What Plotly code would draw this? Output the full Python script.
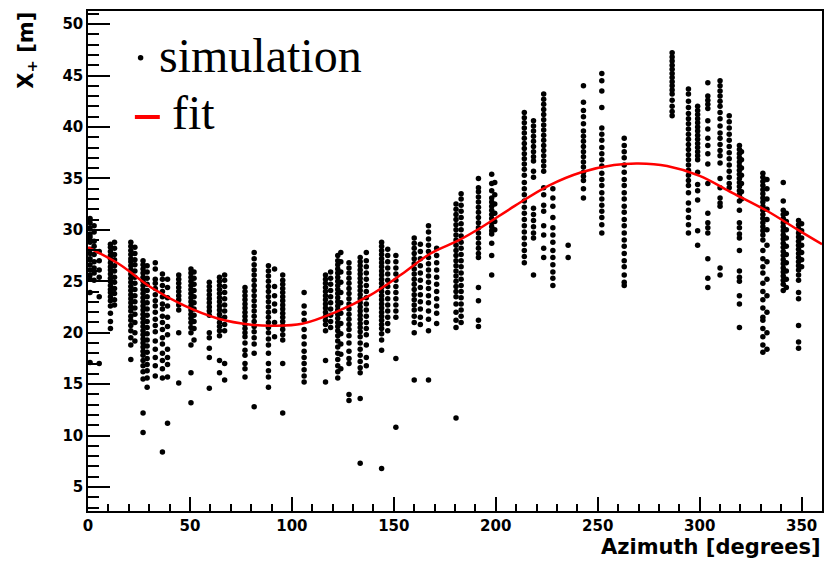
import plotly.graph_objects as go

# ---------------- data ----------------
column_azimuth = [1, 3, 5.5, 11, 13, 21, 23, 27, 29, 33, 36.5, 39, 44.5, 50.5, 52,
                  59.5, 64.5, 67, 77, 81.5, 88.5, 91.5, 95.5, 106, 116.5, 119, 122.5,
                  124, 128, 133.5, 136.5, 144, 147, 151, 160, 163, 167, 171, 180.5,
                  183, 191.5, 198, 199.5, 214, 218.5, 223.5, 228, 235.5, 243, 252,
                  263, 286.5, 294.5, 299, 304, 310, 314.5, 319.5, 320.5, 331, 333,
                  341, 342.5, 348.5, 350]

column_xplus = [
    [31.1, 30.7, 30.2, 29.6, 29.3, 28.8, 28.1, 27.7, 27.2, 26.6, 26.1, 25.6, 25.2, 23.9, 17.1],
    [30.4, 29.8, 28.9, 28.4, 27.6, 26.9, 26.3, 25.8, 25.1],
    [27.9, 27.0, 26.1, 25.4, 23.5, 17.0],
    [28.6, 28.3, 27.9, 27.5, 27.2, 26.8, 26.4, 26.1, 25.7, 25.3, 25.0, 24.6, 24.2, 23.9, 23.5, 23.1, 22.6, 21.9, 21.1, 20.4],
    [28.8, 28.2, 27.6, 27.1, 26.5, 26.0, 25.4, 24.9, 24.3, 23.8, 23.2, 22.7],
    [28.8, 28.4, 28.0, 27.6, 27.2, 26.9, 26.5, 26.1, 25.7, 25.3, 24.9, 24.5, 24.1, 23.7, 23.3, 22.9, 22.5, 22.1, 21.6, 21.2, 20.7, 20.2, 19.5, 18.8, 17.4],
    [28.3, 27.7, 27.1, 26.6, 26.0, 25.4, 24.8, 24.2, 23.6, 23.0, 22.4, 21.8, 21.0, 20.0, 19.2],
    [27.0, 26.6, 26.2, 25.8, 25.4, 25.0, 24.6, 24.2, 23.8, 23.4, 23.0, 22.6, 22.2, 21.8, 21.4, 21.0, 20.6, 20.2, 19.8, 19.4, 19.0, 18.6, 18.2, 17.8, 17.3, 16.8, 16.2, 15.5, 12.2, 10.3],
    [26.5, 25.9, 25.3, 24.7, 24.1, 23.5, 22.9, 22.3, 21.7, 21.1, 20.5, 19.9, 19.3, 18.7, 18.1, 17.5, 16.9, 16.3, 15.6, 14.7],
    [26.8, 26.2, 25.2, 24.8, 24.3, 23.7, 23.1, 22.6, 22.0, 21.3, 20.7, 20.1, 19.2, 18.4, 17.6, 16.8, 15.8],
    [25.7, 25.2, 24.6, 24.0, 23.5, 22.8, 22.3, 21.6, 21.0, 20.3, 19.5, 18.9, 18.0, 17.3, 16.5, 15.6, 8.4],
    [25.2, 24.4, 23.4, 22.6, 21.5, 20.6, 19.8, 18.4, 17.6, 16.9, 15.7, 11.2],
    [25.6, 25.2, 24.8, 24.4, 24.0, 23.6, 23.2, 22.7, 22.2, 20.0, 15.1],
    [26.2, 25.8, 25.4, 25.0, 24.6, 24.2, 23.8, 23.4, 23.0, 22.6, 22.2, 21.8, 21.4, 21.0, 20.5, 20.0, 18.8, 16.1, 13.2],
    [25.9, 25.3, 24.7, 24.1, 23.5, 22.9, 22.3, 21.7, 21.1, 20.4, 19.3],
    [24.9, 24.5, 24.1, 23.7, 23.3, 22.9, 22.5, 22.1, 21.7, 20.0, 19.5, 18.5, 17.6, 14.6],
    [25.4, 25.0, 24.6, 24.2, 23.8, 23.4, 23.0, 22.6, 22.2, 21.8, 21.4, 21.0, 20.6, 20.2, 19.7, 17.3, 16.1],
    [25.6, 25.1, 24.5, 23.9, 23.3, 22.7, 22.1, 21.5, 20.8, 20.2, 17.0, 15.4],
    [24.4, 24.0, 23.6, 23.2, 22.8, 22.4, 22.0, 21.6, 21.2, 20.8, 20.4, 20.0, 19.6, 19.0, 18.3, 17.8, 17.0, 16.5, 15.7],
    [27.8, 27.2, 26.6, 26.1, 25.6, 25.1, 24.6, 24.1, 23.6, 23.1, 22.6, 22.1, 21.6, 21.1, 20.6, 20.1, 19.5, 18.9, 18.0, 12.8],
    [26.5, 26.0, 25.5, 25.0, 24.5, 24.0, 23.5, 23.0, 22.5, 22.0, 21.5, 21.0, 20.5, 20.0, 19.4, 18.8, 18.0, 17.0, 16.3, 15.7, 14.7],
    [26.2, 24.5, 23.6, 22.8, 22.1, 21.0, 19.6],
    [25.6, 25.1, 24.7, 24.3, 23.9, 23.5, 23.1, 22.7, 22.3, 21.9, 21.5, 21.1, 20.7, 20.3, 19.8, 19.3, 17.0, 12.2],
    [23.9, 22.6, 21.9, 21.2, 20.3, 19.6, 18.9, 18.2, 17.6, 17.0, 16.4, 15.8, 15.2],
    [25.6, 25.2, 24.8, 24.4, 24.0, 23.6, 23.2, 22.8, 22.4, 22.0, 21.6, 21.2, 20.8, 20.2, 17.3, 15.2],
    [25.9, 25.3, 24.7, 24.1, 23.5, 22.9, 22.3, 21.7, 21.1, 20.5],
    [27.5, 27.0, 26.6, 26.2, 25.8, 25.4, 25.0, 24.6, 24.2, 23.8, 23.4, 23.0, 22.6, 22.2, 21.8, 21.4, 21.0, 20.6, 20.2, 19.7, 19.2, 18.6, 18.0, 17.4, 16.8, 16.2, 15.6],
    [27.8, 26.9, 25.9, 24.9, 23.9, 22.9, 21.9, 20.9, 19.9, 18.9, 17.9, 16.5],
    [26.8, 26.3, 25.8, 25.3, 24.8, 24.3, 23.8, 23.3, 22.8, 22.3, 21.8, 21.3, 20.8, 20.3, 19.7, 19.0, 18.2, 17.5, 17.0, 14.0, 13.4],
    [27.3, 26.9, 26.5, 26.1, 25.7, 25.3, 24.9, 24.5, 24.1, 23.7, 23.3, 22.9, 22.5, 22.1, 21.7, 21.3, 20.9, 20.5, 20.1, 19.6, 19.0, 18.4, 17.8, 17.2, 16.6, 16.1, 13.6, 7.3],
    [27.8, 27.0, 26.4, 25.8, 25.2, 24.6, 24.0, 23.4, 22.8, 22.2, 21.6, 21.0, 20.4, 19.8, 18.8, 17.6, 16.8],
    [28.8, 28.4, 28.0, 27.6, 27.2, 26.8, 26.4, 26.0, 25.6, 25.2, 24.8, 24.4, 24.0, 23.6, 23.2, 22.8, 22.4, 22.0, 21.6, 21.2, 20.8, 20.4, 19.9, 19.3, 18.3, 6.8],
    [28.1, 27.5, 26.9, 26.3, 25.7, 25.1, 24.5, 23.9, 23.3, 22.7, 22.1, 21.5, 20.9, 20.2],
    [27.5, 26.9, 26.3, 25.7, 25.1, 24.5, 23.9, 23.3, 22.7, 22.1, 21.5, 17.5, 10.8],
    [29.2, 28.7, 28.2, 27.7, 27.2, 26.7, 26.2, 25.7, 25.2, 24.7, 24.2, 23.7, 23.2, 22.7, 22.2, 21.6, 21.0, 20.0, 15.4],
    [28.6, 27.9, 27.2, 26.5, 25.8, 25.1, 24.4, 23.7, 23.0, 22.3, 21.5, 20.8],
    [30.4, 29.8, 29.1, 28.5, 27.9, 27.3, 26.7, 26.1, 25.5, 24.9, 24.3, 23.6, 22.9, 22.1, 21.3, 20.2, 15.4],
    [28.2, 27.5, 26.8, 26.1, 25.4, 24.7, 24.0, 23.3, 22.6, 21.9, 20.9],
    [32.5, 32.0, 31.5, 31.0, 30.5, 30.0, 29.5, 29.0, 28.5, 28.0, 27.5, 27.0, 26.5, 26.0, 25.5, 25.0, 24.5, 24.0, 23.5, 22.8, 22.0, 21.2, 20.5, 11.7],
    [33.5, 33.0, 32.4, 31.8, 31.2, 30.6, 30.0, 29.4, 28.8, 28.2, 27.6, 27.0, 26.4, 25.8, 25.2, 24.6, 24.0, 23.4, 22.8, 22.2, 21.6, 21.0],
    [35.0, 34.1, 33.7, 33.2, 32.7, 32.2, 31.7, 31.2, 30.7, 30.2, 29.7, 29.2, 28.7, 28.2, 27.7, 27.3, 24.4, 23.1, 21.2, 20.6],
    [35.4, 34.5, 33.8, 33.1, 32.7, 32.3, 31.9, 31.5, 31.1, 30.7, 30.3, 29.9, 29.6, 28.7, 27.5, 25.6],
    [34.6, 33.4, 32.5, 31.6, 30.8, 30.0],
    [41.4, 40.9, 40.4, 39.9, 39.4, 38.9, 38.4, 37.9, 37.4, 36.9, 36.4, 35.9, 35.3, 34.6, 34.0, 33.4, 32.8, 32.2, 31.6, 31.0, 30.4, 29.8, 29.2, 28.6, 28.0, 27.4, 26.8],
    [40.6, 40.1, 39.6, 39.1, 38.6, 38.1, 37.6, 37.1, 36.7, 35.7, 35.1, 32.1, 31.5, 30.9, 30.3, 29.7, 29.2, 25.6],
    [43.2, 42.7, 42.2, 41.7, 41.2, 40.7, 40.2, 39.7, 39.2, 38.7, 38.2, 37.7, 37.2, 36.7, 36.2, 35.7, 34.1, 33.4, 32.4, 31.8, 30.4, 29.5, 28.2, 27.3],
    [34.0, 33.1, 32.3, 31.2, 30.2, 29.5, 28.8, 28.0, 27.3, 26.6, 25.9, 25.3, 24.6],
    [28.5, 27.3],
    [44.0, 42.4, 41.6, 41.0, 40.3, 39.6, 39.1, 38.6, 38.1, 37.6, 37.1, 36.6, 36.1, 35.6, 35.2, 34.8, 34.0, 33.1],
    [45.2, 44.5, 43.5, 41.9, 39.9, 39.3, 38.7, 38.0, 37.4, 36.8, 36.2, 35.5, 34.9, 34.3, 33.6, 33.0, 32.4, 31.8, 31.2, 30.5, 29.7],
    [38.9, 38.2, 37.6, 37.0, 36.3, 35.6, 34.9, 34.3, 33.6, 33.0, 32.3, 31.7, 31.0, 30.4, 29.7, 29.0, 28.4, 27.7, 27.0, 26.4, 25.6, 24.9, 24.6],
    [47.2, 46.8, 46.4, 46.0, 45.6, 45.2, 44.8, 44.4, 44.0, 43.6, 43.2, 42.6, 42.0, 41.5, 41.1],
    [43.7, 43.2, 42.5, 41.9, 41.3, 40.8, 40.3, 39.8, 39.3, 38.8, 38.3, 37.8, 37.3, 36.8, 36.3, 35.8, 35.3, 34.8, 34.3, 33.6, 32.6, 31.9, 31.2, 30.5, 29.7],
    [42.0, 41.6, 41.2, 40.8, 40.4, 40.0, 39.6, 39.2, 38.8, 38.4, 38.0, 37.6, 37.2, 36.8, 35.6, 34.4, 33.8, 32.9, 29.9, 28.5],
    [44.3, 43.0, 42.6, 42.2, 41.8, 40.6, 39.8, 38.9, 38.2, 37.4, 36.4, 34.5, 31.6, 30.7, 30.2, 29.7, 27.2, 25.3, 24.4],
    [44.5, 44.0, 43.5, 43.0, 42.5, 42.0, 41.4, 40.8, 40.1, 39.4, 38.9, 38.3, 37.7, 37.2, 36.5, 35.0, 34.1, 33.1, 32.6, 32.3, 26.3, 25.6],
    [41.1, 40.5, 39.9, 39.3, 38.7, 38.1, 37.5, 36.9, 36.3, 35.7, 35.1, 34.5, 34.1],
    [38.2, 37.8, 37.4, 37.0, 36.6, 36.2, 35.8, 35.4, 35.0, 34.6, 34.2, 33.8, 33.4, 32.8, 31.9, 30.7, 30.2, 29.6, 29.2, 28.0, 26.0, 25.4, 25.0, 23.6, 22.8, 20.5],
    [37.6, 36.8, 36.0, 35.3, 34.5, 33.7, 33.0],
    [35.5, 35.1, 34.7, 34.3, 33.9, 33.5, 33.1, 32.7, 32.3, 31.9, 31.5, 31.1, 30.7, 30.3, 29.9, 29.5, 29.0, 28.0, 27.2, 26.4, 25.8, 24.8, 24.0, 23.2, 22.4, 21.5, 21.2, 20.4, 19.6, 18.8, 18.1],
    [34.9, 34.0, 33.0, 32.0, 31.0, 30.0, 28.5, 26.9, 25.2, 23.6, 22.0, 20.0, 18.4],
    [34.6, 32.8, 31.9, 31.5, 31.1, 30.7, 30.3, 29.9, 29.5, 29.1, 28.7, 28.3, 27.9, 27.5, 27.1, 26.7, 26.3, 25.9, 25.5, 25.1, 24.7, 24.1],
    [31.6, 30.8, 30.0, 29.2, 28.4, 27.6, 26.8, 26.0, 25.2, 24.4],
    [30.9, 30.5, 30.1, 29.7, 29.3, 28.9, 28.5, 28.1, 27.7, 27.3, 26.9, 26.5, 26.1, 25.6, 25.1, 23.9, 23.3, 20.7, 19.1, 18.5],
    [30.6, 29.9, 29.2, 28.5, 27.8, 27.1, 26.4],
]

fit_azimuth = [0, 15, 31, 47, 64, 80, 91, 105, 121.5, 138, 154, 168, 182, 193,
               209.5, 226, 242, 258, 270, 284, 300, 316, 332.5, 349, 360]
fit_xplus = [28.3, 26.7, 24.4, 22.65, 21.36, 20.78, 20.68, 20.87, 22.0, 23.6, 25.7,
             27.7, 29.0, 30.25, 32.35, 34.3, 35.6, 36.3, 36.45, 36.2, 35.25, 33.6,
             31.9, 29.9, 28.6]

x_range = [0, 360]
y_range = [2.67, 51.27]

# ---------------- build figure ----------------
sim_x, sim_y = [], []
for az, ys in zip(column_azimuth, column_xplus):
    sim_x.extend([az] * len(ys))
    sim_y.extend(ys)

W, H = 825, 564
ML, MR, MT, MB = 88, 1, 11, 53
PW, PH = W - ML - MR, H - MT - MB


def px(xp):
    return (xp - ML) / PW


def py(yp):
    return (H - MB - yp) / PH


fig = go.Figure()
fig.add_trace(go.Scatter(x=sim_x, y=sim_y, mode="markers", name="simulation",
                         marker=dict(color="black", size=5.5, symbol="circle",
                                     line=dict(width=0)),
                         showlegend=False, cliponaxis=True))
fig.add_trace(go.Scatter(x=fit_azimuth, y=fit_xplus, mode="lines", name="fit",
                         line=dict(color="#ff0000", width=2.5, shape="spline",
                                   smoothing=1.0),
                         showlegend=False))

tickfont = dict(family="DejaVu Sans", size=15, color="black", weight="bold")
fig.update_xaxes(range=x_range, showgrid=False, zeroline=False,
                 ticks="inside", ticklen=14, tickwidth=1.5, tickcolor="black",
                 dtick=50, tick0=0, tickfont=tickfont,
                 minor=dict(ticks="inside", ticklen=7, dtick=10, tick0=0,
                            tickwidth=1.5, tickcolor="black", showgrid=False),
                 showline=True, linecolor="black", linewidth=1.5, mirror=True)
fig.update_yaxes(range=y_range, showgrid=False, zeroline=False,
                 ticks="inside", ticklen=22, tickwidth=1.5, tickcolor="black",
                 dtick=5, tick0=0, tickfont=tickfont,
                 minor=dict(ticks="inside", ticklen=11, dtick=1, tick0=0,
                            tickwidth=1.5, tickcolor="black", showgrid=False),
                 showline=True, linecolor="black", linewidth=1.5, mirror=True)

title_font = dict(family="DejaVu Sans", size=21, color="black", weight="bold")
legend_font = dict(family="Liberation Serif", size=48, color="black")

annotations = [
    dict(text="Azimuth [degrees]", x=px(825), y=py(547), xref="paper", yref="paper",
         xanchor="right", yanchor="middle", showarrow=False, font=title_font),
    dict(text="X<sub>+</sub> [m]", x=px(26), y=py(10), xref="paper", yref="paper",
         xanchor="center", yanchor="top", textangle=-90, showarrow=False,
         font=title_font),
    dict(text="simulation", x=px(157), y=py(56), xref="paper", yref="paper",
         xanchor="left", yanchor="middle", showarrow=False, font=legend_font),
    dict(text="fit", x=px(170), y=py(113), xref="paper", yref="paper",
         xanchor="left", yanchor="middle", showarrow=False, font=legend_font),
]

shapes = [
    dict(type="circle", xref="paper", yref="paper",
         x0=px(138), x1=px(143.5), y0=py(55), y1=py(60.5),
         fillcolor="black", line=dict(width=0)),
    dict(type="line", xref="paper", yref="paper",
         x0=px(135), x1=px(160), y0=py(117), y1=py(117),
         line=dict(color="#ff0000", width=4)),
]

fig.update_layout(width=W, height=H, margin=dict(l=ML, r=MR, t=MT, b=MB),
                  paper_bgcolor="white", plot_bgcolor="white",
                  annotations=annotations, shapes=shapes, showlegend=False)

fig.write_html("out.html")
